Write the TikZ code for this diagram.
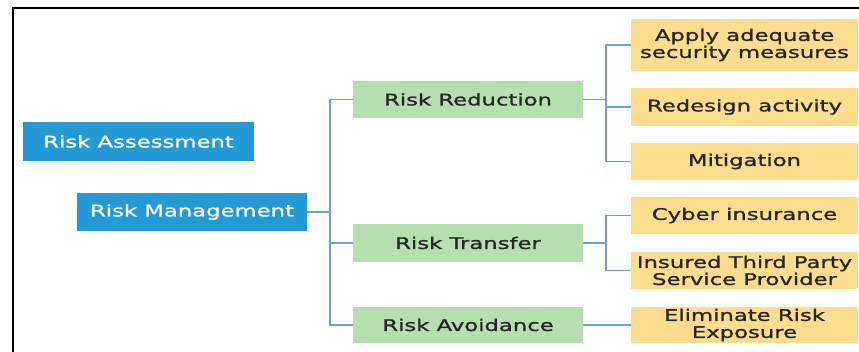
\documentclass[tikz,border=0pt]{standalone}
\usepackage{fontspec}
\newfontfamily\boxfont{DejaVu Sans}[FakeStretch=1.42, FakeBold=1.2]
\definecolor{riskblue}{HTML}{2399D6}
\definecolor{riskgreen}{HTML}{B6DEB0}
\definecolor{riskorange}{HTML}{FCDD8E}
\definecolor{linkblue}{HTML}{6E9FD0}
\definecolor{inktext}{HTML}{262626}
\begin{document}
\begin{tikzpicture}[x=1pt, y=-1pt,
    box/.style={inner sep=0pt, align=center, font=\boxfont\fontsize{16}{17}\selectfont},
    mainbox/.style={box, fill=riskblue, text=white, minimum width=230pt, minimum height=38pt},
    kindbox/.style={box, fill=riskgreen, text=inktext, minimum width=230pt, minimum height=37pt},
    stepbox/.style={box, fill=riskorange, text=inktext, minimum width=227pt, minimum height=37pt},
    link/.style={draw=linkblue, line width=1.3pt}]
    \useasboundingbox (0,0) rectangle (859,352);
    \draw[line width=1.5pt] (13,352) -- (13,8) -- (859,8);
    \node[mainbox, minimum width=231pt, minimum height=39pt] (assess) at (138.5,141.5) {Risk Assessment};
    \node[mainbox] (manage) at (192,212) {Risk Management};
    \node[kindbox] (reduce) at (468,99.5) {Risk Reduction};
    \node[kindbox, minimum height=38pt] (transfer) at (468,243) {Risk Transfer};
    \node[kindbox, minimum height=36pt] (avoid) at (468,325) {Risk Avoidance};
    \node[stepbox, minimum height=52pt] (apply) at (744.5,45) {Apply adequate\\security measures};
    \node[stepbox, minimum height=38pt] (redesign) at (744.5,107) {Redesign activity};
    \node[stepbox] (mitigate) at (744.5,161.5) {Mitigation};
    \node[stepbox] (cyber) at (744.5,215.5) {Cyber insurance};
    \node[stepbox] (insured) at (744.5,270.5) {Insured Third Party\\Service Provider};
    \node[stepbox, minimum height=36pt] (eliminate) at (744.5,325) {Eliminate Risk\\Exposure};
    \coordinate (mtrunk) at (330,0);
    \coordinate (rtrunk) at (606,0);
    \draw[link] (manage.east) -- (manage.east -| mtrunk);
    \draw[link] (reduce.west) -| (mtrunk |- avoid.west) -- (avoid.west);
    \draw[link] (mtrunk |- transfer.west) -- (transfer.west);
    \draw[link] (reduce.east) -- (reduce.east -| rtrunk);
    \draw[link] (apply.west) -| (rtrunk |- mitigate.west) -- (mitigate.west);
    \draw[link] (rtrunk |- redesign.west) -- (redesign.west);
    \draw[link] (transfer.east) -- (transfer.east -| rtrunk);
    \draw[link] (cyber.west) -| (rtrunk |- insured.west) -- (insured.west);
    \draw[link] (avoid.east) -- (eliminate.west);
\end{tikzpicture}
\end{document}
